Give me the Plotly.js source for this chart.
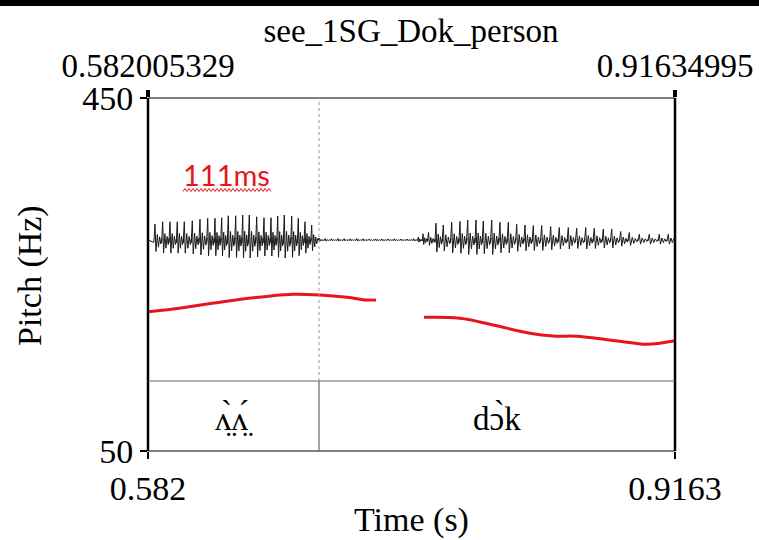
<!DOCTYPE html>
<html>
<head>
<meta charset="utf-8">
<script src="https://cdn.plot.ly/plotly-3.0.1.min.js"></script>
<style>html,body{margin:0;padding:0;background:#fff;}#chart{width:759px;height:540px;}</style>
</head>
<body>
<div id="chart"></div>
<script>
// ---- data ----
const chartTitle = "see_1SG_Dok_person";
const timeRange = [0.582005329, 0.91634995];
const topTickText = ["0.582005329", "0.91634995"];
const bottomTickText = ["0.582", "0.9163"];
const pitchRange = [50, 450];
const pitchTickText = ["50", "450"];

// pitch contour (Hz), two voiced stretches
const pitchTimeA = [0.5820, 0.5979, 0.6296, 0.6613, 0.6740, 0.6911, 0.7083, 0.7209, 0.7267];
const pitchHzA   = [207.8, 210.9, 219.2, 226.0, 227.6, 226.8, 224.2, 221.1, 221.1];
const pitchTimeB = [0.7571, 0.7799, 0.8009, 0.8243, 0.8390, 0.8542, 0.8688, 0.8859, 0.8986, 0.9163];
const pitchHzB   = [201.5, 200.4, 192.8, 183.4, 180.3, 180.0, 177.2, 173.2, 170.9, 175.0];

// waveform glottal pulses (time s, relative amplitude)
const pulseTimeA = [0.58645,0.59133,0.59596,0.60059,0.60504,0.61011,0.61499,0.61988,0.62451,0.62876,0.63295,0.63764,0.64209,0.64627,0.65097,0.65560,0.66004,0.66429,0.66848,0.67317,0.67736,0.68161,0.68586];
const pulseAmpA  = [0.64,0.73,0.73,0.73,0.73,0.77,0.83,0.87,0.87,0.89,0.97,0.97,1.0,1.0,0.93,0.89,0.89,0.96,1.0,0.96,0.87,0.73,0.6];
const noiseTime  = [0.6905,0.6945,0.6985,0.7025,0.7065,0.7105,0.7145,0.7185,0.7225,0.7265,0.7305,0.7345,0.7385,0.7425,0.7465,0.7505,0.7535];
const noiseAmp   = [0.08,0.06,0.05,0.06,0.05,0.05,0.06,0.05,0.04,0.05,0.04,0.04,0.05,0.04,0.04,0.05,0.12];
const pulseTimeB = [0.7565,0.7600,0.76472,0.76935,0.77468,0.77995,0.78483,0.79010,0.79473,0.80006,0.80532,0.81059,0.81592,0.82119,0.82645,0.83178,0.83749,0.84295,0.84866,0.85399,0.85970,0.86515,0.87086,0.87619,0.88190,0.88736,0.89370,0.90005,0.90639,0.91210];
const pulseAmpB  = [0.25,0.3,0.67,0.6,0.71,0.74,0.8,0.8,0.76,0.8,0.71,0.71,0.63,0.6,0.58,0.58,0.54,0.5,0.5,0.47,0.5,0.47,0.44,0.44,0.34,0.3,0.23,0.23,0.23,0.23];

// text grid tier
const tierBoundaries = [0.6905];
const tierLabels = ["\u028C\u0300\u0324\u028C\u0301\u0324", "d\u0254\u0300k"];
const durationNote = "111ms";

// ---- build ----
const serif = "Liberation Serif, Times New Roman, DejaVu Serif, serif";
const plotL = 148, plotR = 675, plotT = 98, plotB = 451, W = 759, H = 540;
const pw = plotR - plotL, ph = plotB - plotT;
const px = x => (x - plotL) / pw;
const py = y => (plotB - y) / ph;

// pulse shape template (style)
const shapeOff = [-0.15, 0, 0.12, 0.3, 0.45, 0.6, 0.75, 0.9];
const shapeAmp = [-0.15, 1, -0.72, 0.35, -0.45, 0.2, -0.25, 0.1];
function addPulses(times, amps, xs, ys) {
  for (let i = 0; i < times.length; i++) {
    const p = i < times.length - 1 ? times[i + 1] - times[i] : times[i] - times[i - 1];
    for (let k = 0; k < shapeOff.length; k++) {
      xs.push(times[i] + shapeOff[k] * p);
      ys.push(amps[i] * shapeAmp[k]);
    }
  }
}
const wx = [timeRange[0]], wy = [0];
addPulses(pulseTimeA, pulseAmpA, wx, wy);
addPulses(noiseTime, noiseAmp, wx, wy);
addPulses(pulseTimeB, pulseAmpB, wx, wy);
wx.push(timeRange[1]); wy.push(0);

const waveCenterPx = 240, ampPx = 25;
const y2Range = [-(plotB - waveCenterPx) / ampPx, (waveCenterPx - plotT) / ampPx];

const traces = [
  {x: wx, y: wy, yaxis: 'y2', mode: 'lines', line: {color: '#1a1a1a', width: 1}, hoverinfo: 'skip'},
  {x: pitchTimeA.concat([null], pitchTimeB), y: pitchHzA.concat([null], pitchHzB),
   mode: 'lines', line: {color: '#e8141b', width: 3, shape: 'spline'}, connectgaps: false},
  {x: timeRange, y: pitchRange, xaxis: 'x2', mode: 'markers', marker: {opacity: 0}, hoverinfo: 'skip'}
];

const tierY = py(381);
const bounds = [timeRange[0]].concat(tierBoundaries, [timeRange[1]]);
const shapes = [
  {type: 'rect', xref: 'paper', yref: 'paper', x0: px(0), x1: px(W), y0: py(6), y1: py(0), fillcolor: '#000', line: {width: 0}},
  {type: 'line', xref: 'paper', yref: 'paper', x0: 0, x1: 1, y0: 1, y1: 1, line: {color: '#555', width: 1.5}},
  {type: 'line', xref: 'paper', yref: 'paper', x0: 0, x1: 1, y0: 0, y1: 0, line: {color: '#555', width: 1.5}},
  {type: 'line', xref: 'paper', yref: 'paper', x0: 0, x1: 0, y0: 0, y1: 1, line: {color: '#000', width: 2.5}},
  {type: 'line', xref: 'paper', yref: 'paper', x0: 1, x1: 1, y0: 0, y1: 1, line: {color: '#000', width: 2.5}},
  {type: 'line', xref: 'paper', yref: 'paper', x0: 0, x1: 1, y0: tierY, y1: tierY, line: {color: '#666', width: 1.2}}
];
tierBoundaries.forEach(b => {
  shapes.push({type: 'line', xref: 'x', yref: 'paper', x0: b, x1: b, y0: 0, y1: tierY, line: {color: '#666', width: 1.2}});
  shapes.push({type: 'line', xref: 'x', yref: 'paper', x0: b, x1: b, y0: tierY, y1: 1, line: {color: '#999', width: 1, dash: 'dot'}});
});
// wavy red underline under the note
let wp = '';
for (let x = 183, k = 0; x <= 272; x += 2, k++) {
  const yy = 190 + (k % 2 ? -1.5 : 1.5);
  wp += (k === 0 ? 'M ' : ' L ') + px(x).toFixed(5) + ' ' + py(yy).toFixed(5);
}
shapes.push({type: 'path', xref: 'paper', yref: 'paper', path: wp, line: {color: '#e8141b', width: 1}});

const annotations = [
  {text: 'Pitch (Hz)', xref: 'paper', yref: 'paper', x: px(30), y: py(276), xanchor: 'center', yanchor: 'middle', textangle: -90, showarrow: false, font: {family: serif, size: 34, color: '#000'}},
  {text: 'Time (s)', xref: 'paper', yref: 'paper', x: px(411), y: py(520), xanchor: 'center', yanchor: 'middle', showarrow: false, font: {family: serif, size: 34, color: '#000'}},
  {text: durationNote, xref: 'paper', yref: 'paper', x: px(226), y: py(174), xanchor: 'center', yanchor: 'middle', showarrow: false, font: {family: 'Lato, Carlito, Open Sans, sans-serif', size: 29, color: '#e8141b'}}
];
for (let i = 0; i < tierLabels.length; i++) {
  annotations.push({text: tierLabels[i], xref: 'x', yref: 'paper', x: (bounds[i] + bounds[i + 1]) / 2, y: py(418),
    xanchor: 'center', yanchor: 'middle', showarrow: false, font: {family: serif, size: 33, color: '#000'}});
}

const layout = {
  width: W, height: H,
  margin: {l: plotL, r: W - plotR, t: plotT, b: H - plotB, pad: 0},
  paper_bgcolor: '#fff', plot_bgcolor: '#fff',
  showlegend: false,
  title: {text: chartTitle, x: 411 / W, xanchor: 'center', y: 1 - 30 / H, yanchor: 'middle', font: {family: serif, size: 33, color: '#000'}},
  xaxis: {range: timeRange, tickvals: timeRange, ticktext: bottomTickText, ticks: 'outside', ticklen: 7, tickwidth: 1.5, tickcolor: '#000',
    showgrid: false, zeroline: false, showline: false, tickfont: {family: serif, size: 34, color: '#000'}, fixedrange: true},
  xaxis2: {range: timeRange, overlaying: 'x', side: 'top', tickvals: timeRange, ticktext: topTickText, ticks: 'outside', ticklen: 7, tickwidth: 4, tickcolor: '#000',
    showgrid: false, zeroline: false, showline: false, tickfont: {family: serif, size: 33, color: '#000'}},
  yaxis: {range: pitchRange, tickvals: pitchRange, ticktext: pitchTickText, ticks: 'outside', ticklen: 7, tickwidth: 1.5, tickcolor: '#000',
    showgrid: false, zeroline: false, showline: false, tickfont: {family: serif, size: 34, color: '#000'}},
  yaxis2: {range: y2Range, overlaying: 'y', visible: false, showgrid: false, zeroline: false},
  shapes: shapes, annotations: annotations
};
Plotly.newPlot('chart', traces, layout, {displayModeBar: false, staticPlot: true});
</script>
</body>
</html>
